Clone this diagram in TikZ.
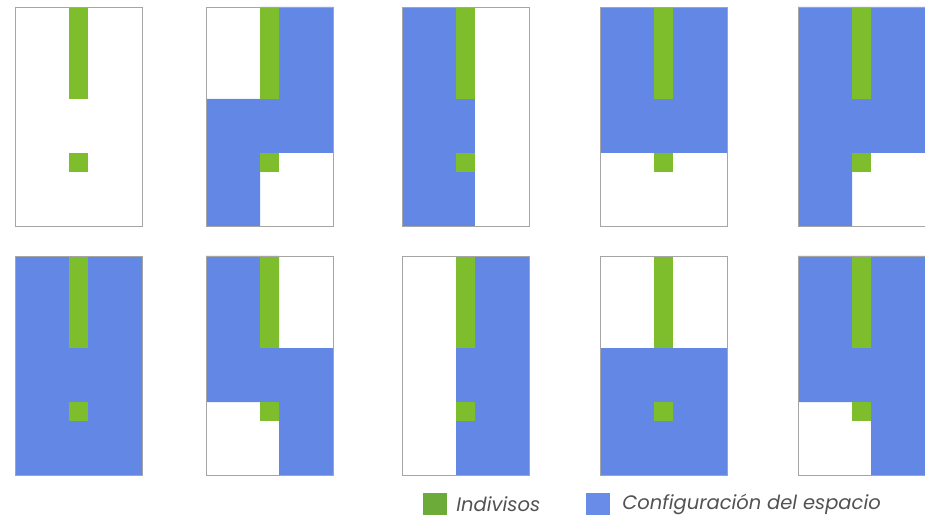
\documentclass[tikz,border=0pt]{standalone}
\usepackage{fontspec}
\setmainfont{Poppins}
\usetikzlibrary{positioning}

\definecolor{verde}{RGB}{126,190,44}
\definecolor{azul}{RGB}{99,135,228}
\definecolor{verdeley}{RGB}{108,170,58}
\definecolor{azulley}{RGB}{104,140,232}
\definecolor{marco}{RGB}{165,165,165}

\tikzset{
  config/.style={fill=azul},
  indiviso/.style={fill=verde},
  borde/.style={draw=marco, line width=0.9pt},
  cajaley/.style={minimum width=24pt, minimum height=22pt, inner sep=0pt},
  textoley/.style={font=\fontsize{19.5}{22}\selectfont\itshape, text=black!68, inner sep=0pt}
}

% one floor plan: #1,#2 top left corner, #3 the blue part
\newcommand{\plano}[3]{%
  \begin{scope}[shift={(#1,#2)}]
    #3
    % fixed elements
    \fill[indiviso] (54,0) rectangle (73,92);
    \fill[indiviso] (54,146) rectangle (73,165);
    \draw[borde] (0,0) rectangle (127,219);
  \end{scope}}

\begin{document}
\begin{tikzpicture}[x=1pt, y=-1pt]
\useasboundingbox (0,0) rectangle (925,518);

% first row
\plano{15}{7}{}
\plano{206}{7}{\fill[config] (54,0) -- (127,0) -- (127,146) -- (54,146) -- (54,219) -- (0,219) -- (0,92) -- (54,92) -- cycle;}
\plano{402}{7}{\fill[config] (0,0) rectangle (73,219);}
\plano{600}{7}{\fill[config] (0,0) rectangle (127,146);}
\plano{798}{7}{\fill[config] (0,0) -- (127,0) -- (127,146) -- (54,146) -- (54,219) -- (0,219) -- cycle;}

% second row
\plano{15}{256}{\fill[config] (0,0) rectangle (127,219);}
\plano{206}{256}{\fill[config] (0,0) -- (73,0) -- (73,92) -- (127,92) -- (127,219) -- (73,219) -- (73,146) -- (0,146) -- cycle;}
\plano{402}{256}{\fill[config] (54,0) rectangle (127,219);}
\plano{600}{256}{\fill[config] (0,92) rectangle (127,219);}
\plano{798}{256}{\fill[config] (0,0) -- (127,0) -- (127,219) -- (73,219) -- (73,146) -- (0,146) -- cycle;}

% legend
\node[cajaley, fill=verdeley] (cIndiv) at (435,504) {};
\node[textoley, anchor=west, right=9pt of cIndiv] (tIndiv) {Indivisos};
\node[cajaley, fill=azulley] (cConfig) at (598,504) {};
\node[textoley, anchor=west, right=12pt of cConfig] (tConfig) {Configuración del espacio};
\end{tikzpicture}
\end{document}
